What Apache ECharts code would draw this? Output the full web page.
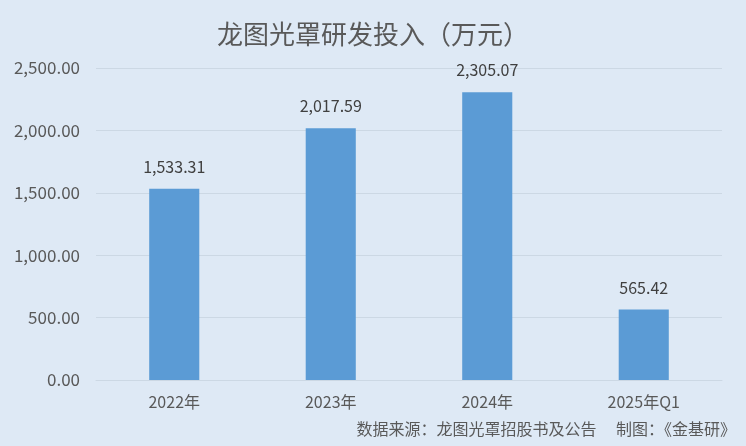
<!DOCTYPE html>
<html><head>
<meta charset="UTF-8">
<title>龙图光罩研发投入</title>
<script src="https://cdn.jsdelivr.net/npm/echarts@6/dist/echarts.min.js"></script>
<style>html,body{margin:0;padding:0;background:#dee9f5;}</style>
</head>
<body>
<div id="main" style="width:746px;height:446px;"></div>
<script>
var years = ['2022年', '2023年', '2024年', '2025年Q1'];
var rdInput = [1533.31, 2017.59, 2305.07, 565.42];
var yTicks = {min: 0, max: 2500, interval: 500};

function fmt(v) {
	return Number(v).toLocaleString('en-US', {minimumFractionDigits: 2, maximumFractionDigits: 2});
}

var font = '"Noto Sans CJK SC", "Microsoft YaHei", sans-serif';
var chart = echarts.init(document.getElementById('main'));
chart.setOption({
	backgroundColor: '#dee9f5',
	textStyle: {fontFamily: font},
	title: {
		text: '龙图光罩研发投入（万元）',
		left: 'center', top: 16,
		textStyle: {fontSize: 26, fontWeight: 'normal', color: '#595959', fontFamily: font}
	},
	graphic: [{
		type: 'text', right: 10, top: 421,
		style: {text: '数据来源：龙图光罩招股书及公告\u3000 制图：《金基研》', fontSize: 16, fill: '#595959', fontFamily: font}
	}],
	grid: {left: 96, right: 24, top: 68, bottom: 66},
	xAxis: {
		type: 'category', data: years,
		axisLine: {lineStyle: {color: '#ccd8e4'}},
		axisTick: {show: false},
		axisLabel: {fontSize: 16, color: '#595959', margin: 14}
	},
	yAxis: {
		type: 'value', min: yTicks.min, max: yTicks.max, interval: yTicks.interval,
		axisLine: {show: false}, axisTick: {show: false},
		axisLabel: {fontSize: 17, color: '#595959', margin: 16, formatter: fmt},
		splitLine: {lineStyle: {color: '#ccd8e4'}}
	},
	series: [{
		type: 'bar', data: rdInput, barWidth: '32%',
		itemStyle: {color: '#5b9bd5'},
		label: {show: true, position: 'top', distance: 14, fontSize: 16, color: '#404040', formatter: function(p){return fmt(p.value);}}
	}]
});
</script>
</body>
</html>
